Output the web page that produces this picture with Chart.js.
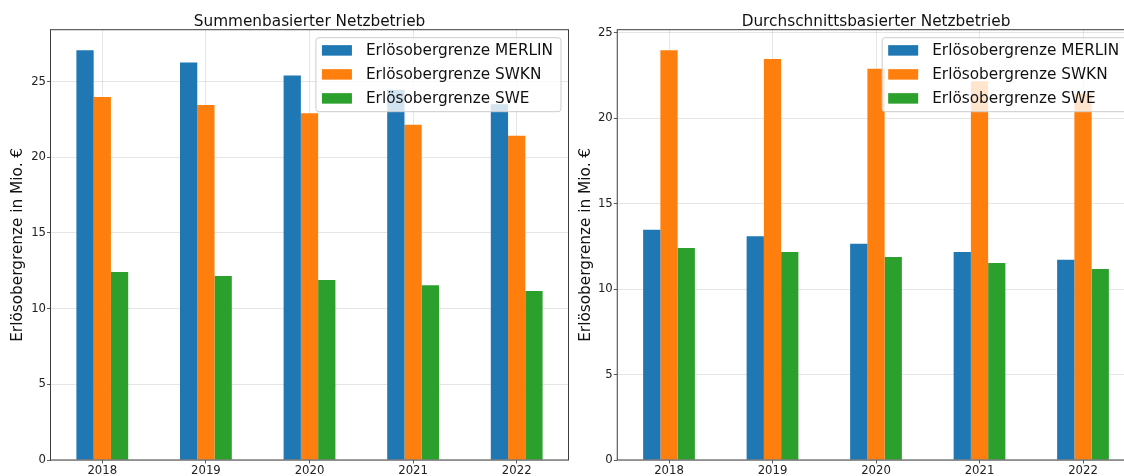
<!DOCTYPE html>
<html><head><meta charset="utf-8">
<script src="https://cdn.jsdelivr.net/npm/chart.js@4.4.0/dist/chart.umd.min.js"></script>
<style>
html,body{margin:0;padding:0;background:#fff;overflow:hidden;width:1124px;height:476px;}
#wrap{position:relative;width:1124px;height:476px;overflow:hidden;background:#fff;}
#c1{position:absolute;left:0;top:0;}
#c2{position:absolute;left:570px;top:0;}
</style></head><body>
<div id="wrap"><canvas id="c1" width="575" height="476"></canvas><canvas id="c2" width="575" height="476"></canvas></div>
<script>
// ---- data ----
const years = ['2018', '2019', '2020', '2021', '2022'];
const seriesLabels = ['Erlösobergrenze MERLIN', 'Erlösobergrenze SWKN', 'Erlösobergrenze SWE'];
const sumMerlin = [27.07, 26.25, 25.40, 24.45, 23.50];
const sumSwkn   = [23.98, 23.45, 22.90, 22.15, 21.42];
const sumSwe    = [12.42, 12.16, 11.89, 11.54, 11.16];
const avgMerlin = [13.48, 13.09, 12.66, 12.17, 11.72];
const avgSwkn   = [23.98, 23.47, 22.90, 22.16, 21.42];
const avgSwe    = [12.41, 12.17, 11.88, 11.53, 11.17];
const titles = ['Summenbasierter Netzbetrieb', 'Durchschnittsbasierter Netzbetrieb'];
const yTitle = 'Erlösobergrenze in Mio. €';
const yStep = 5;

// ---- style ----
const colors = ['#1f77b4', '#ff7f0e', '#2ca02c'];
const FONT = "'DejaVu Sans', sans-serif";
const BIG = 15.3, SMALL = 11.7;
const gridColor = 'rgba(176,176,176,0.42)';
Chart.defaults.font.family = FONT;

const decor = {
  id: 'decor',
  afterDatasetsDraw(chart, args, opts) {
    const {ctx, chartArea: a} = chart;
    ctx.save();
    // frame (spines)
    ctx.strokeStyle = '#3c3c3c';
    ctx.lineWidth = 1;
    ctx.strokeRect(a.left, a.top, a.right - a.left, a.bottom - a.top);
    // title
    ctx.font = BIG + 'px ' + FONT;
    ctx.fillStyle = '#111';
    ctx.textAlign = 'center';
    ctx.textBaseline = 'alphabetic';
    ctx.fillText(opts.title, (a.left + a.right) / 2, a.top - 3.3);
    // legend
    const ds = chart.data.datasets;
    const tw = Math.max(...ds.map(d => ctx.measureText(d.label).width));
    const w = 50 + tw + 8, h = 74;
    const x = a.right - 7.5 - w, y = a.top + 8;
    const r = 3;
    ctx.beginPath();
    ctx.moveTo(x + r, y);
    ctx.lineTo(x + w - r, y); ctx.arcTo(x + w, y, x + w, y + r, r);
    ctx.lineTo(x + w, y + h - r); ctx.arcTo(x + w, y + h, x + w - r, y + h, r);
    ctx.lineTo(x + r, y + h); ctx.arcTo(x, y + h, x, y + h - r, r);
    ctx.lineTo(x, y + r); ctx.arcTo(x, y, x + r, y, r);
    ctx.closePath();
    ctx.fillStyle = 'rgba(255,255,255,0.8)';
    ctx.fill();
    ctx.strokeStyle = '#cccccc';
    ctx.lineWidth = 1;
    ctx.stroke();
    ds.forEach((d, i) => {
      const cy = y + 12.7 + i * 24;
      ctx.fillStyle = d.backgroundColor;
      ctx.fillRect(x + 6, cy - 5.25, 30, 10.5);
      ctx.fillStyle = '#111';
      ctx.textAlign = 'left';
      ctx.textBaseline = 'middle';
      ctx.fillText(d.label, x + 50, cy + 0.5);
    });
    ctx.restore();
  }
};

function makeChart(id, title, series, yWidth, padRight, titlePad) {
  const yMax = Math.max(...series.flat()) * 1.05;
  return new Chart(document.getElementById(id), {
    type: 'bar',
    data: {
      labels: years,
      datasets: series.map((s, i) => ({
        label: seriesLabels[i], data: s, backgroundColor: colors[i], borderWidth: 0
      }))
    },
    options: {
      responsive: false,
      animation: false,
      layout: {padding: {left: 0, right: padRight, top: 29.7, bottom: 0}},
      datasets: {bar: {categoryPercentage: 0.5, barPercentage: 1.0}},
      plugins: {
        legend: {display: false},
        tooltip: {enabled: false},
        title: {display: false},
        decor: {title: title}
      },
      scales: {
        x: {
          grid: {offset: false, color: gridColor, lineWidth: 0.8, tickLength: 3.5, tickColor: '#333', drawTicks: true},
          border: {display: false},
          ticks: {font: {size: SMALL}, color: '#222', padding: 0, maxRotation: 0, autoSkip: false},
          afterFit(s) { s.height = 16; }
        },
        y: {
          min: 0, max: yMax,
          grid: {color: gridColor, lineWidth: 0.8, tickLength: 3.5, tickColor: '#333', drawTicks: true},
          border: {display: false},
          ticks: {stepSize: yStep, font: {size: SMALL}, color: '#222', padding: 1},
          afterBuildTicks(s) {
            const t = [];
            for (let v = 0; v <= s.max + 1e-9; v += yStep) t.push({value: v});
            s.ticks = t;
          },
          afterFit(s) { s.width = yWidth; },
          title: {display: true, text: yTitle, font: {size: BIG}, color: '#111', padding: {top: titlePad, bottom: 0}}
        }
      }
    },
    plugins: [decor]
  });
}

makeChart('c1', titles[0], [sumMerlin, sumSwkn, sumSwe], 50.5, 6.5, 9);
makeChart('c2', titles[1], [avgMerlin, avgSwkn, avgSwe], 47.25, 10.25, 7);
</script>
</body></html>
